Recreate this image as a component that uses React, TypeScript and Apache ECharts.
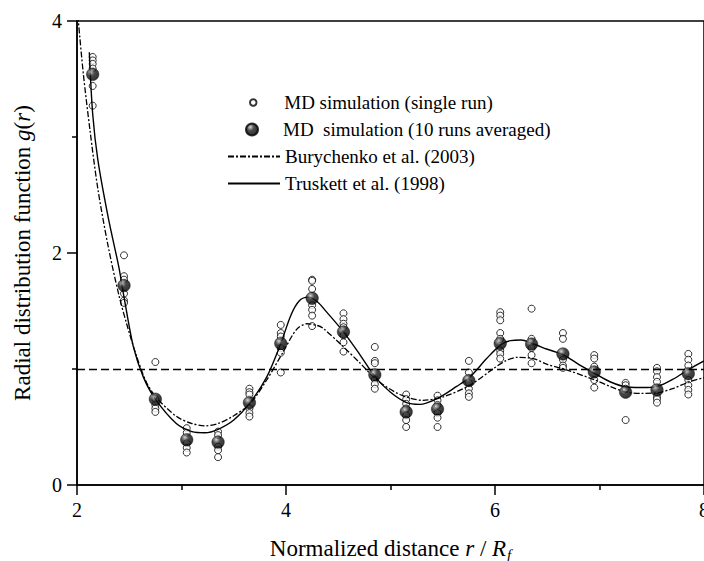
import React, { useEffect, useRef } from "react";
import * as echarts from "echarts";

const FONT = "Times New Roman";

const runPositions = [2.15, 2.45, 2.75, 3.05, 3.35, 3.65, 3.95, 4.25, 4.55, 4.85, 5.15, 5.45, 5.75, 6.05, 6.35, 6.65, 6.95, 7.25, 7.55, 7.85];

const singleRunValues = [
  [3.69, 3.66, 3.63, 3.59, 3.44, 3.27],
  [1.98, 1.8, 1.77, 1.65, 1.59, 1.57],
  [1.06, 0.74, 0.69, 0.66, 0.63],
  [0.49, 0.45, 0.36, 0.32, 0.28],
  [0.46, 0.43, 0.33, 0.3, 0.24],
  [0.83, 0.8, 0.78, 0.66, 0.62, 0.59],
  [1.38, 1.31, 1.28, 1.18, 1.14, 0.97],
  [1.77, 1.76, 1.69, 1.55, 1.51, 1.46, 1.37],
  [1.48, 1.43, 1.39, 1.36, 1.29, 1.23, 1.15],
  [1.19, 1.07, 1.05, 0.91, 0.87, 0.83],
  [0.78, 0.74, 0.7, 0.66, 0.6, 0.56, 0.5],
  [0.77, 0.73, 0.69, 0.62, 0.58, 0.5],
  [1.07, 0.97, 0.88, 0.83, 0.79, 0.76],
  [1.49, 1.46, 1.42, 1.31, 1.26, 1.16, 1.13, 1.09],
  [1.52, 1.26, 1.18, 1.12, 1.05],
  [1.31, 1.26, 1.08, 1.03, 1.01],
  [1.12, 1.09, 1.02, 0.905, 0.84],
  [0.88, 0.86, 0.83, 0.56],
  [1.01, 0.98, 0.93, 0.89, 0.76, 0.74, 0.71],
  [1.13, 1.08, 1.03, 0.905, 0.86, 0.82, 0.78],
];

const averagedValues = [3.54, 1.72, 0.74, 0.39, 0.37, 0.71, 1.22, 1.61, 1.32, 0.95, 0.63, 0.655, 0.9, 1.22, 1.215, 1.13, 0.975, 0.8, 0.82, 0.96];

const burychenkoCurve = [
  [2.0, 4.15], [2.013, 4.0], [2.06, 3.55], [2.124, 3.06], [2.2, 2.55], [2.3, 2.05], [2.4, 1.64],
  [2.475, 1.39], [2.57, 1.11], [2.667, 0.88], [2.763, 0.75], [2.954, 0.59], [3.1, 0.53],
  [3.225, 0.51], [3.35, 0.53], [3.496, 0.595], [3.656, 0.7], [3.815, 0.905], [3.975, 1.15],
  [4.1, 1.34], [4.2, 1.39], [4.3, 1.375], [4.357, 1.35], [4.55, 1.19], [4.71, 1.05],
  [4.87, 0.905], [5.09, 0.78], [5.31, 0.73], [5.505, 0.76], [5.76, 0.86], [5.98, 1.0],
  [6.1, 1.07], [6.21, 1.1], [6.366, 1.09], [6.5, 1.04], [6.66, 1.0], [6.957, 0.905],
  [7.1, 0.85], [7.26, 0.8], [7.4, 0.79], [7.557, 0.795], [7.7, 0.83], [7.86, 0.89], [8.0, 0.925],
];

const truskettCurve = [
  [2.118, 3.73], [2.15, 3.2], [2.2, 2.8], [2.3, 2.3], [2.4, 1.88], [2.45, 1.62], [2.54, 1.19],
  [2.635, 0.93], [2.75, 0.74], [2.95, 0.53], [3.1, 0.46], [3.225, 0.45], [3.35, 0.48],
  [3.5, 0.56], [3.656, 0.71], [3.815, 0.93], [3.95, 1.22], [4.05, 1.47], [4.13, 1.59],
  [4.21, 1.62], [4.3, 1.58], [4.39, 1.49], [4.55, 1.32], [4.71, 1.12], [4.855, 0.93],
  [5.0, 0.8], [5.155, 0.71], [5.28, 0.695], [5.457, 0.75], [5.633, 0.85], [5.76, 0.93],
  [5.92, 1.09], [6.057, 1.21], [6.15, 1.245], [6.25, 1.25], [6.357, 1.22], [6.5, 1.17],
  [6.66, 1.12], [6.8, 1.04], [6.957, 0.96], [7.1, 0.89], [7.26, 0.845], [7.45, 0.84],
  [7.557, 0.85], [7.7, 0.91], [7.86, 1.0], [8.0, 1.07],
];

const referenceLevel = 1;

const seriesNames = [
  "MD simulation (single run)",
  "MD  simulation (10 runs averaged)",
  "Burychenko et al. (2003)",
  "Truskett et al. (1998)",
];

export default function App() {
  const ref = useRef<HTMLDivElement>(null);

  useEffect(() => {
    if (!ref.current) return;
    const chart = echarts.init(ref.current, null, { renderer: "svg" });

    const singleData = runPositions.flatMap((x, i) => singleRunValues[i].map((v) => [x, v]));
    const avgData = runPositions.map((x, i) => [x, averagedValues[i]]);

    const sphere = new echarts.graphic.RadialGradient(0.36, 0.3, 0.7, [
      { offset: 0, color: "#d0d0d0" },
      { offset: 0.18, color: "#808080" },
      { offset: 0.45, color: "#1c1c1c" },
      { offset: 1, color: "#000000" },
    ]);

    const textStyle = { fontFamily: FONT, fontSize: 19, color: "#000" };
    const axisLine = { show: true, lineStyle: { color: "#000", width: 1.5 } };

    const option: any = {
      animation: false,
      backgroundColor: "#fff",
      textStyle: { fontFamily: FONT },
      grid: {
        left: 77,
        right: 0,
        top: 21,
        bottom: 76,
        outerBoundsMode: "none",
        containLabel: false,
        show: true,
        borderColor: "#000",
        borderWidth: 1.5,
        backgroundColor: "transparent",
      },
      legend: [
        {
          data: [{ name: seriesNames[0], icon: "circle" }],
          left: 249,
          top: 93,
          padding: 0,
          itemWidth: 52,
          itemHeight: 6.5,
          selectedMode: false,
          textStyle,
        },
        {
          data: [{ name: seriesNames[1], icon: "circle" }],
          left: 245,
          top: 120,
          padding: 0,
          itemWidth: 52,
          itemHeight: 12,
          selectedMode: false,
          textStyle,
        },
        {
          data: [seriesNames[2], seriesNames[3]],
          orient: "vertical",
          left: 227,
          top: 147,
          padding: 0,
          itemWidth: 52,
          itemHeight: 14,
          itemGap: 8,
          selectedMode: false,
          itemStyle: { opacity: 0 },
          textStyle,
        },
      ],
      xAxis: {
        type: "value",
        min: 2,
        max: 8,
        interval: 2,
        name: "Normalized distance {i|r} / {i|R}{s|f}",
        nameLocation: "middle",
        nameGap: 49,
        nameTextStyle: {
          fontFamily: FONT,
          fontSize: 23,
          color: "#000",
          rich: {
            i: { fontFamily: FONT, fontSize: 23, fontStyle: "italic", color: "#000" },
            s: { fontFamily: FONT, fontSize: 15, fontStyle: "italic", color: "#000", padding: [13, 0, 0, 1] },
          },
        },
        axisLine,
        axisTick: { show: true, length: 10, inside: false, lineStyle: { color: "#000", width: 1.5 } },
        minorTick: { show: true, splitNumber: 2, length: 5, lineStyle: { color: "#000", width: 1.5 } },
        splitLine: { show: false },
        minorSplitLine: { show: false },
        axisLabel: { fontFamily: FONT, fontSize: 20, color: "#000", margin: 15, showMaxLabel: true },
      },
      yAxis: {
        type: "value",
        min: 0,
        max: 4,
        interval: 2,
        name: "Radial distribution function {i|g}({i|r})",
        nameLocation: "middle",
        nameGap: 43,
        nameTextStyle: {
          fontFamily: FONT,
          fontSize: 23,
          color: "#000",
          rich: {
            i: { fontFamily: FONT, fontSize: 23, fontStyle: "italic", color: "#000" },
          },
        },
        axisLine,
        axisTick: { show: true, length: 10, inside: false, lineStyle: { color: "#000", width: 1.5 } },
        minorTick: { show: true, splitNumber: 2, length: 5, lineStyle: { color: "#000", width: 1.5 } },
        splitLine: { show: false },
        minorSplitLine: { show: false },
        axisLabel: { fontFamily: FONT, fontSize: 20, color: "#000", margin: 15 },
      },
      series: [
        {
          name: seriesNames[0],
          type: "scatter",
          data: singleData,
          symbol: "circle",
          symbolSize: 7,
          itemStyle: { color: "#fff", borderColor: "#000", borderWidth: 1 },
          z: 2,
        },
        {
          name: seriesNames[2],
          type: "line",
          data: burychenkoCurve,
          smooth: 0.3,
          symbol: "none",
          showSymbol: false,
          clip: true,
          lineStyle: { color: "#000", width: 1.3, type: [6, 2, 2, 2] },
          itemStyle: { color: "#000" },
          z: 3,
        },
        {
          name: seriesNames[3],
          type: "line",
          data: truskettCurve,
          smooth: 0.3,
          symbol: "none",
          showSymbol: false,
          clip: true,
          lineStyle: { color: "#000", width: 1.4, type: "solid" },
          itemStyle: { color: "#000" },
          z: 3,
          markLine: {
            silent: true,
            symbol: ["none", "none"],
            label: { show: false },
            lineStyle: { color: "#000", width: 1.4, type: [8, 4] },
            data: [{ yAxis: referenceLevel }],
          },
        },
        {
          name: seriesNames[1],
          type: "scatter",
          data: avgData,
          symbol: "circle",
          symbolSize: 12.5,
          itemStyle: { color: sphere, borderColor: "#000", borderWidth: 0.5 },
          z: 4,
        },
      ],
    };

    chart.setOption(option);
    return () => chart.dispose();
  }, []);

  return (
    <div
      ref={ref}
      style={{ position: "fixed", left: 0, top: 0, width: 704, height: 561, background: "#fff" }}
    />
  );
}
